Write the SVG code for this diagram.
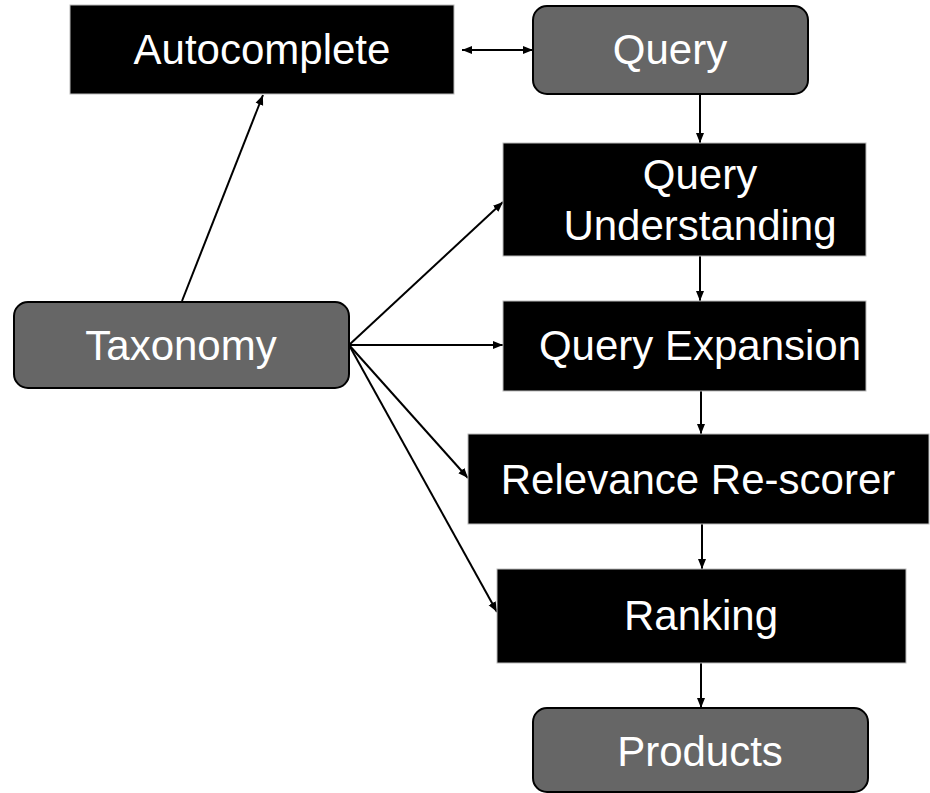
<svg xmlns="http://www.w3.org/2000/svg" width="930" height="793" viewBox="0 0 930 793">
<defs>
<marker id="ah" viewBox="0 0 10 10" refX="10" refY="5" markerWidth="10" markerHeight="10" markerUnits="userSpaceOnUse" orient="auto-start-reverse">
<path d="M0,1 L10,5 L0,9 z" fill="#000"/>
</marker>
<style>
.blk{fill:#000;stroke:#bbbbbb;stroke-width:1}
.gry{fill:#666666;stroke:#000;stroke-width:2}
.t{font-family:"Liberation Sans",Arial,sans-serif;font-size:42px;fill:#fff;text-anchor:middle}
.c{stroke:#000;stroke-width:2;fill:none;marker-end:url(#ah)}
</style>
</defs>
<rect width="930" height="793" fill="#fff"/>
<g id="connectors">
<line class="c" x1="462" y1="50" x2="533" y2="50" style="marker-start:url(#ah)"/>
<line class="c" x1="182" y1="301" x2="263" y2="95"/>
<line class="c" x1="349" y1="345" x2="503" y2="202"/>
<line class="c" x1="349" y1="345" x2="503" y2="345"/>
<line class="c" x1="349" y1="345" x2="468" y2="478"/>
<line class="c" x1="349" y1="345" x2="497" y2="612"/>
<line class="c" x1="700" y1="94" x2="700" y2="143"/>
<line class="c" x1="700" y1="256" x2="700" y2="301"/>
<line class="c" x1="701" y1="391" x2="701" y2="434"/>
<line class="c" x1="702" y1="524" x2="702" y2="569"/>
<line class="c" x1="701" y1="663" x2="701" y2="708"/>
</g>
<g id="autocomplete">
<rect class="blk" x="70" y="5" width="384" height="89"/>
<text class="t" x="262" y="64">Autocomplete</text>
</g>
<g id="query">
<rect class="gry" x="533" y="6" width="275" height="88" rx="14"/>
<text class="t" x="670" y="64">Query</text>
</g>
<g id="taxonomy">
<rect class="gry" x="14" y="302" width="335" height="86" rx="14"/>
<text class="t" x="181" y="360">Taxonomy</text>
</g>
<g id="query-understanding">
<rect class="blk" x="503" y="143" width="363" height="113"/>
<text class="t" x="700" y="189">Query</text>
<text class="t" x="700" y="240">Understanding</text>
</g>
<g id="query-expansion">
<rect class="blk" x="503" y="301" width="363" height="90"/>
<text class="t" x="700" y="360">Query Expansion</text>
</g>
<g id="relevance-rescorer">
<rect class="blk" x="468" y="434" width="461" height="90"/>
<text class="t" x="698" y="494">Relevance Re-scorer</text>
</g>
<g id="ranking">
<rect class="blk" x="497" y="569" width="409" height="94"/>
<text class="t" x="701" y="630">Ranking</text>
</g>
<g id="products">
<rect class="gry" x="533" y="708" width="335" height="84" rx="14"/>
<text class="t" x="700" y="766">Products</text>
</g>
</svg>
